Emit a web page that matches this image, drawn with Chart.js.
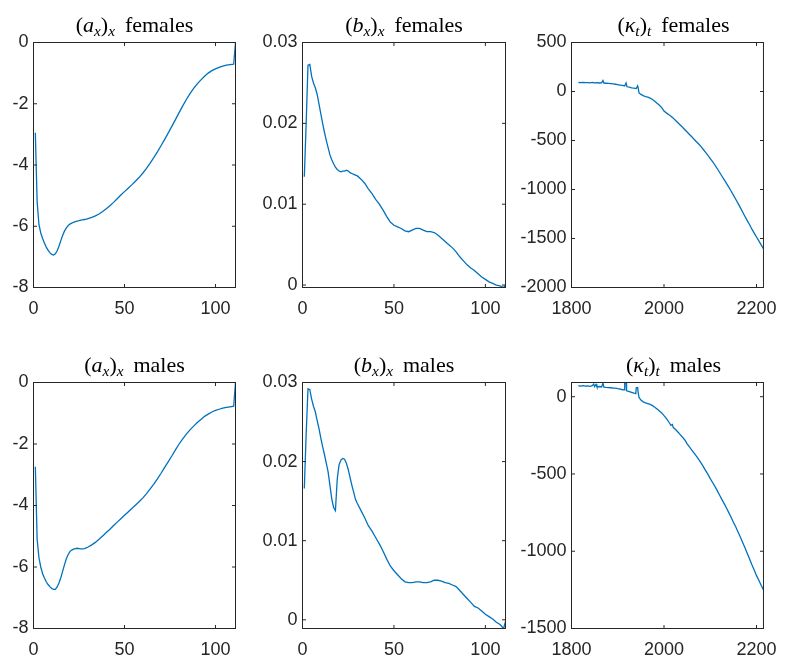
<!DOCTYPE html>
<html>
<head>
<meta charset="utf-8">
<script src="https://cdn.jsdelivr.net/npm/chart.js@4"></script>
<style>
  html, body { margin: 0; padding: 0; background: #fff; }
  #fig { position: relative; width: 788px; height: 656px; overflow: hidden; }
  #fig canvas { position: absolute; left: 0; top: 0; }
  .ttl { position: absolute; font-family: "Liberation Serif", serif; font-size: 22px; color: #000;
         white-space: nowrap; transform: translateX(-50%); line-height: 1; }
  .ttl .s { font-size: 0.7em; vertical-align: -0.25em; }
  .ttl .w { margin-left: 0.45em; }
</style>
</head>
<body>
<div id="fig"></div>
<script>
// ages used by the a_x / b_x fits
const AGES = [1,2,3,4,5,6,7,8,9,10,11,12,13,14,15,16,17,18,19,20,21,22,23,24,25,26,27,28,29,30,
  32,34,36,38,40,42,44,46,48,50,52,54,56,58,60,62,64,66,68,70,72,74,76,78,80,82,84,86,88,90,
  92,94,96,98,100,102,104,106,108,110,111];

const axFemales = [-2.95,-5.2,-5.95,-6.22,-6.4,-6.55,-6.68,-6.78,-6.86,-6.92,-6.94,-6.9,-6.8,-6.65,-6.47,
  -6.3,-6.16,-6.06,-5.98,-5.93,-5.9,-5.87,-5.85,-5.83,-5.82,-5.8,-5.79,-5.78,-5.77,-5.75,
  -5.71,-5.66,-5.6,-5.52,-5.43,-5.33,-5.22,-5.1,-4.98,-4.87,-4.76,-4.65,-4.53,-4.41,-4.27,-4.12,-3.95,
  -3.77,-3.58,-3.38,-3.17,-2.96,-2.74,-2.52,-2.29,-2.07,-1.86,-1.67,-1.5,-1.35,-1.22,-1.1,-1.0,-0.92,
  -0.86,-0.81,-0.77,-0.74,-0.72,-0.71,0];

const axMales = [-2.74,-5.1,-5.7,-6.0,-6.22,-6.36,-6.48,-6.57,-6.64,-6.7,-6.73,-6.73,-6.65,-6.52,-6.35,
  -6.14,-5.93,-5.74,-5.6,-5.5,-5.45,-5.42,-5.4,-5.39,-5.4,-5.41,-5.41,-5.4,-5.38,-5.35,
  -5.28,-5.2,-5.1,-4.99,-4.88,-4.77,-4.65,-4.54,-4.43,-4.32,-4.21,-4.1,-3.99,-3.88,-3.76,-3.62,-3.47,
  -3.31,-3.14,-2.96,-2.77,-2.58,-2.39,-2.19,-2.0,-1.83,-1.68,-1.54,-1.42,-1.3,-1.2,-1.1,-1.03,-0.96,
  -0.91,-0.87,-0.83,-0.81,-0.79,-0.77,0];

const bxFemales = [0.0134,0.0200,0.0272,0.0273,0.0258,0.0250,0.0244,0.0236,0.0224,0.0212,0.0200,0.0189,
  0.0179,0.0170,0.0161,0.0155,0.0150,0.0146,0.0143,0.0141,0.0140,0.0141,0.0141,0.0142,0.0141,0.0139,
  0.0138,0.0137,0.0136,0.0135,
  0.0131,0.0126,0.0119,0.0113,0.0106,0.0100,0.0093,0.0085,0.0078,0.0074,0.0072,0.0070,0.0067,0.0066,
  0.0068,0.0070,0.0070,0.0068,0.0066,0.0066,0.0065,0.0062,0.0058,0.0054,0.0050,0.0046,0.0041,0.0035,
  0.0030,0.0025,0.0021,0.0018,0.0014,0.0010,0.0007,0.0004,0.0002,0.0000,-0.0001,-0.0003,0.0000];

const bxMales = [0.0166,0.0235,0.0292,0.0291,0.0279,0.0270,0.0263,0.0252,0.0242,0.0230,0.0219,0.0209,
  0.0198,0.0187,0.0170,0.0153,0.0142,0.0138,0.0178,0.0196,0.0202,0.0204,0.0203,0.0198,0.0190,0.0180,
  0.0170,0.0161,0.0152,0.0147,
  0.0138,0.0129,0.0119,0.0112,0.0104,0.0096,0.0087,0.0077,0.0068,0.0062,0.0057,0.0052,0.0048,0.0047,
  0.0047,0.0048,0.0048,0.0047,0.0047,0.0048,0.0050,0.0050,0.0049,0.0047,0.0046,0.0044,0.0042,0.0037,
  0.0032,0.0027,0.0022,0.0017,0.0015,0.0011,0.0007,0.0004,0.0001,-0.0003,-0.0006,-0.0011,-0.0002];

// period index, observed years then projection
const yearsFemales = [1815,1820,1825,1830,1835,1840,1845,1850,1855,1860,1865,1868,1870,1875,1880,1885,
  1890,1895,1900,1905,1910,1915,1918,1920,1925,1930,1935,1940,1943,1944,1946,
  1950,1955,1960,1965,1970,1975,1980,1985,1990,1995,2000,2005,2010,2015,2020,2025,2030,2035,2040,
  2045,2050,2055,2060,2065,2070,2075,2080,2085,2090,2095,2100,2105,2110,2115,2120,2125,2130,2135,
  2140,2145,2150,2155,2160,2165,2170,2175,2180,2185,2190,2195,2200,2205,2210,2215];
const kappaFemales = [92,90,93,90,91,88,92,89,90,87,88,112,86,84,82,80,
  77,74,70,66,62,57,88,48,44,38,34,30,58,40,-15,
  -30,-42,-52,-58,-68,-82,-100,-120,-140,-165,-200,-218,-235,-252,-272,-295,-318,-342,-365,
  -390,-414,-438,-462,-488,-512,-536,-563,-592,-622,-652,-684,-716,-750,-786,-824,-862,-900,-938,
  -976,-1015,-1058,-1100,-1142,-1185,-1230,-1275,-1318,-1360,-1405,-1445,-1485,-1525,-1565,-1605];

const yearsMales = [1815,1820,1825,1830,1835,1840,1845,1848,1850,1853,1855,1860,1865,1868,1870,1875,
  1880,1885,1890,1895,1900,1905,1910,1914,1915,1918,1919,1920,1925,1930,1935,1939,1940,1943,1944,1946,
  1950,1955,1960,1965,1970,1975,1980,1985,1990,1995,2000,2005,2010,2015,2018,2020,2025,2030,2035,
  2040,2045,2050,2055,2060,2065,2070,2075,2080,2085,2090,2095,2100,2105,2110,2115,2120,2125,2130,
  2135,2140,2145,2150,2155,2160,2165,2170,2175,2180,2185,2190,2195,2200,2205,2210,2215];
const kappaMales = [71,69,72,68,70,67,72,82,66,80,64,66,63,88,62,60,
  59,58,56,55,52,50,45,44,90,92,40,38,33,28,23,20,58,60,30,-5,
  -22,-33,-40,-45,-50,-58,-68,-80,-92,-105,-122,-140,-162,-185,-180,-200,-212,-228,-245,
  -262,-280,-305,-325,-345,-365,-385,-405,-428,-452,-478,-503,-530,-555,-580,-608,-636,-664,-692,
  -720,-750,-780,-812,-842,-875,-908,-943,-978,-1015,-1050,-1088,-1122,-1158,-1188,-1220,-1250];

// tick values
const ageTicks = [0, 50, 100];
const yearTicks = [1800, 2000, 2200];
const axTicks = [-8, -6, -4, -2, 0];
const bxTicks = [0, 0.01, 0.02, 0.03];
const kappaFTicks = [-2000, -1500, -1000, -500, 0, 500];
const kappaMTicks = [-1500, -1000, -500, 0];

const W = 788, H = 656;
const LINE = '#0072BD';
const AXIS = '#262626';
const TICK_LEN = 3.5;
const AXH = 40;

// matlab-like axes: full box with inward ticks on all four sides
const frame = {
  id: 'frame',
  afterDraw(chart) {
    const { ctx, chartArea: a, scales } = chart;
    ctx.save();
    ctx.strokeStyle = AXIS;
    ctx.lineWidth = 1;
    ctx.beginPath();
    scales.x.ticks.forEach(t => {
      const px = scales.x.getPixelForValue(t.value);
      ctx.moveTo(px, a.bottom); ctx.lineTo(px, a.bottom - TICK_LEN);
      ctx.moveTo(px, a.top); ctx.lineTo(px, a.top + TICK_LEN);
    });
    scales.y.ticks.forEach(t => {
      const py = scales.y.getPixelForValue(t.value);
      ctx.moveTo(a.left, py); ctx.lineTo(a.left + TICK_LEN, py);
      ctx.moveTo(a.right, py); ctx.lineTo(a.right - TICK_LEN, py);
    });
    ctx.stroke();
    ctx.strokeRect(a.left, a.top, a.right - a.left, a.bottom - a.top);
    ctx.restore();
  }
};

const panels = [
  { xs: AGES, ys: axFemales, xMin: 0, xMax: 111, yMin: -8, yMax: 0, xt: ageTicks, yt: axTicks,
    box: [33.5, 42.5, 235.5, 287.5], title: '(<i>a</i><span class="s"><i>x</i></span>)<span class="s"><i>x</i></span><span class="w">females</span>' },
  { xs: AGES, ys: bxFemales, xMin: 0, xMax: 111, yMin: Math.min(...bxFemales), yMax: 0.03, xt: ageTicks, yt: bxTicks,
    box: [302.5, 42.5, 505.5, 287.5], title: '(<i>b</i><span class="s"><i>x</i></span>)<span class="s"><i>x</i></span><span class="w">females</span>' },
  { xs: yearsFemales, ys: kappaFemales, xMin: 1800, xMax: 2215, yMin: -2000, yMax: 500, xt: yearTicks, yt: kappaFTicks,
    box: [571.5, 42.5, 775.5, 287.5], title: '(<i>κ</i><span class="s"><i>t</i></span>)<span class="s"><i>t</i></span><span class="w">females</span>' },
  { xs: AGES, ys: axMales, xMin: 0, xMax: 111, yMin: -8, yMax: 0, xt: ageTicks, yt: axTicks,
    box: [33.5, 382.5, 235.5, 628.5], title: '(<i>a</i><span class="s"><i>x</i></span>)<span class="s"><i>x</i></span><span class="w">males</span>' },
  { xs: AGES, ys: bxMales, xMin: 0, xMax: 111, yMin: Math.min(...bxMales), yMax: 0.03, xt: ageTicks, yt: bxTicks,
    box: [302.5, 382.5, 505.5, 628.5], title: '(<i>b</i><span class="s"><i>x</i></span>)<span class="s"><i>x</i></span><span class="w">males</span>' },
  { xs: yearsMales, ys: kappaMales, xMin: 1800, xMax: 2215, yMin: -1500, yMax: Math.max(...kappaMales), xt: yearTicks, yt: kappaMTicks,
    box: [571.5, 382.5, 775.5, 628.5], title: '(<i>κ</i><span class="s"><i>t</i></span>)<span class="s"><i>t</i></span><span class="w">males</span>' }
];

const fig = document.getElementById('fig');
const tickFont = { family: '"Liberation Sans", Arial, sans-serif', size: 18 };

panels.forEach(p => {
  const [l, t, r, b] = p.box;
  // y axis band wide enough for its labels (they get clipped to it)
  const axw = Math.min(l, 70);
  const canvas = document.createElement('canvas');
  canvas.width = W; canvas.height = H;
  fig.appendChild(canvas);

  const ttl = document.createElement('div');
  ttl.className = 'ttl';
  ttl.innerHTML = p.title;
  ttl.style.left = ((l + r) / 2) + 'px';
  ttl.style.top = (t - 29) + 'px';
  fig.appendChild(ttl);

  new Chart(canvas, {
    type: 'line',
    data: {
      datasets: [{
        data: p.xs.map((x, i) => ({ x, y: p.ys[i] })),
        borderColor: LINE,
        borderWidth: 1.3,
        pointRadius: 0,
        tension: 0,
        fill: false
      }]
    },
    options: {
      responsive: false,
      animation: false,
      devicePixelRatio: 1,
      events: [],
      layout: { padding: { left: l - axw, top: t, right: W - r, bottom: H - b - AXH } },
      plugins: { legend: { display: false }, tooltip: { enabled: false } },
      scales: {
        x: {
          type: 'linear', min: p.xMin, max: p.xMax,
          afterBuildTicks: s => { s.ticks = p.xt.map(v => ({ value: v })); },
          afterFit: s => { s.height = AXH; },
          grid: { display: false, drawTicks: false },
          border: { display: false },
          ticks: { color: AXIS, font: tickFont, padding: 11, maxRotation: 0, autoSkip: false, callback: v => String(v) }
        },
        y: {
          type: 'linear', min: p.yMin, max: p.yMax,
          afterBuildTicks: s => { s.ticks = p.yt.map(v => ({ value: v })); },
          afterFit: s => { s.width = axw; },
          grid: { display: false, drawTicks: false },
          border: { display: false },
          ticks: { color: AXIS, font: tickFont, padding: 5, autoSkip: false, callback: v => String(v) }
        }
      }
    },
    plugins: [frame]
  });
});
</script>
</body>
</html>
